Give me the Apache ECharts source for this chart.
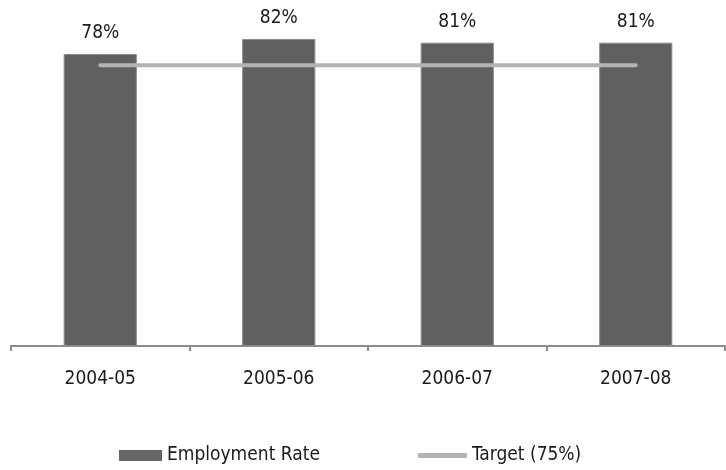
<!DOCTYPE html>
<html>
<head>
<meta charset="utf-8">
<script src="https://cdn.jsdelivr.net/npm/echarts@6/dist/echarts.min.js"></script>
<style>
  html, body { margin: 0; padding: 0; background: #fff; }
  #chart { width: 726px; height: 470px; }
</style>
</head>
<body>
<div id="chart"></div>
<script>
// Employment rate by academic year against the 75% target
const years = ['2004-05', '2005-06', '2006-07', '2007-08'];
const employmentRate = [78, 82, 81, 81];
const target = [75, 75, 75, 75];

const FONT = '"Liberation Sans Narrow", "Arial Narrow", "DejaVu Sans Condensed", sans-serif';
const FS = 19;

const chart = echarts.init(document.getElementById('chart'));
chart.setOption({
  animation: false,
  backgroundColor: '#ffffff',
  grid: { left: 11, right: 1, top: 9, bottom: 124, containLabel: false },
  xAxis: {
    type: 'category',
    data: years,
    boundaryGap: true,
    axisLine: { lineStyle: { color: '#8c8c8c', width: 2 } },
    axisTick: { show: true, length: 5, lineStyle: { color: '#8c8c8c', width: 2 } },
    axisLabel: { color: '#1a1a1a', fontFamily: FONT, fontSize: FS, margin: 24 }
  },
  yAxis: {
    type: 'value', min: 0, max: 90, show: false,
    splitLine: { show: false }
  },
  legend: [
    {
      left: 114, top: 441,
      itemWidth: 43, itemHeight: 11, itemGap: 0,
      icon: 'rect',
      itemStyle: { borderWidth: 0, color: '#666666' },
      data: ['Employment Rate'],
      textStyle: { color: '#1a1a1a', fontFamily: FONT, fontSize: FS }
    },
    {
      left: 413, top: 441,
      itemWidth: 49, itemHeight: 5, itemGap: 0,
      icon: 'roundRect',
      data: ['Target (75%)'],
      textStyle: { color: '#1a1a1a', fontFamily: FONT, fontSize: FS }
    }
  ],
  series: [
    {
      name: 'Employment Rate',
      type: 'bar',
      data: employmentRate,
      barWidth: '41%',
      itemStyle: { color: '#606060', borderColor: '#8a8a8a', borderWidth: 1 },
      label: {
        show: true, position: 'top', distance: 11,
        formatter: p => p.value + '%',
        color: '#1a1a1a', fontFamily: FONT, fontSize: FS
      },
      z: 2
    },
    {
      name: 'Target (75%)',
      type: 'line',
      data: target,
      symbol: 'none',
      lineStyle: { color: '#b3b3b3', width: 4, cap: 'round' },
      itemStyle: { color: '#b3b3b3' },
      z: 3
    }
  ]
});
</script>
</body>
</html>
